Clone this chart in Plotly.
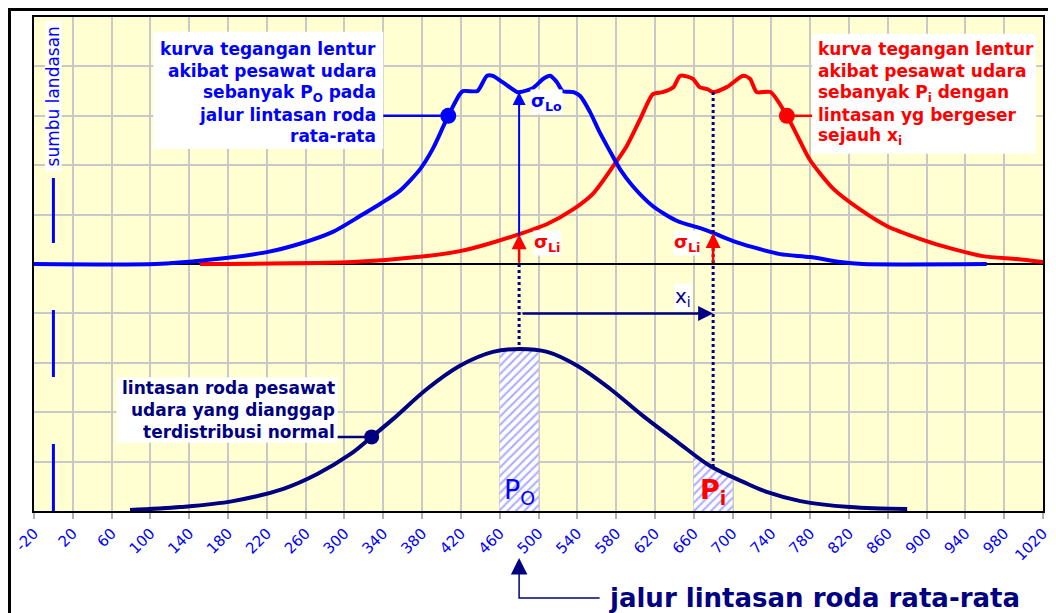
import numpy as np
import plotly.graph_objects as go

# ---------------- data ----------------
tick_vals = list(range(-20, 1021, 40))
tick_text = [str(v) for v in tick_vals]

mean_path = 480      # jalur lintasan roda rata-rata
shift_xi = 200       # x_i
runway_axis = 0      # sumbu landasan

# stress curve, aircraft Po on the mean wheel path (blue)
blue_x = [-20, 105, 158, 220, 254, 288, 316, 337, 357, 378, 391, 402, 407, 419, 422,
          437, 440, 447, 453, 463, 478, 481, 494, 505, 512, 519, 525, 536, 543, 553,
          563, 574, 584, 597, 618, 643, 666, 680, 700, 721, 749, 780, 811, 834, 962]
blue_y = [0, 0, 0.08, 0.24, 0.41, 0.65, 0.97, 1.22, 1.48, 1.92, 2.33, 2.79, 3.00, 3.44, 3.50,
          3.50, 3.58, 3.81, 3.81, 3.68, 3.48, 3.48, 3.56, 3.75, 3.81, 3.68, 3.50, 3.48, 3.40, 3.08,
          2.67, 2.27, 1.92, 1.58, 1.17, 0.87, 0.73, 0.63, 0.47, 0.34, 0.20, 0.14, 0.04, 0, 0]

# stress curve, aircraft Pi on path shifted by x_i (red)
red_x = [151, 309, 385, 419, 447, 481, 509, 536, 556, 577, 591, 605, 618, 628, 639, 646,
         659, 666, 674, 680, 694, 711, 718, 725, 739, 756, 770, 780, 804, 831, 859, 893,
         924, 958, 993, 1020]
red_y = [0, 0.04, 0.16, 0.26, 0.40, 0.61, 0.81, 1.11, 1.42, 1.98, 2.39, 2.94, 3.44, 3.48, 3.58, 3.81,
         3.75, 3.58, 3.54, 3.48, 3.58, 3.81, 3.75, 3.48, 3.48, 3.00, 2.47, 2.10, 1.52, 1.11, 0.77, 0.51,
         0.32, 0.16, 0.10, 0.04]

# normal distribution of wheel paths (navy), baseline at -5
norm_x = [79, 131, 185, 237, 272, 306, 328, 350, 385, 419, 453, 481, 509, 540, 574, 608,
          643, 677, 711, 736, 770, 821, 880]
norm_y = [-4.98, -4.92, -4.80, -4.55, -4.25, -3.85, -3.50, -3.14, -2.53, -2.06, -1.78, -1.72,
          -1.78, -2.06, -2.53, -3.08, -3.60, -4.09, -4.41, -4.62, -4.80, -4.92, -4.96]
norm_base = -5

# strip widths (hatched) and marker positions
strip_po = [460, 500]
strip_pi = [660, 700]
blue_marker_x = 407
red_marker_x = 756
norm_marker_x = 328

BLUE = "#0000FF"
RED = "#FF0000"
NAVY = "#000080"
FONT = "DejaVu Sans"

pi_x = mean_path + shift_xi


def on(xs, ys, x):
    return float(np.interp(x, xs, ys))


fig = go.Figure()

# hatched strips under the normal curve
for (a, b) in (strip_po, strip_pi):
    inner = [v for v in norm_x if a < v < b]
    sx = [a] + inner + [b]
    sy = [on(norm_x, norm_y, v) for v in sx]
    px = sx + [b, a, a]
    py = sy + [norm_base, norm_base, sy[0]]
    fig.add_trace(go.Scatter(x=px, y=py, mode="lines", fill="toself",
                             line=dict(width=0, color="rgba(0,0,0,0)"),
                             fillcolor="white",
                             fillpattern=dict(shape="/", fgcolor="#5A5AFF", bgcolor="white",
                                              size=6, solidity=0.35),
                             hoverinfo="skip"))

# runway axis (dashed)
fig.add_trace(go.Scatter(x=[runway_axis, runway_axis], y=[norm_base, 1.74], mode="lines",
                         line=dict(color=BLUE, width=3, dash="67px,67px"), hoverinfo="skip"))

# curves
fig.add_trace(go.Scatter(x=norm_x, y=norm_y, mode="lines",
                         line=dict(color=NAVY, width=4, shape="spline", smoothing=1.0)))
fig.add_trace(go.Scatter(x=red_x, y=red_y, mode="lines",
                         line=dict(color=RED, width=4, shape="spline", smoothing=0.7)))
fig.add_trace(go.Scatter(x=blue_x, y=blue_y, mode="lines",
                         line=dict(color=BLUE, width=4, shape="spline", smoothing=0.7)))

# dotted guide lines
fig.add_trace(go.Scatter(x=[mean_path, mean_path], y=[0, on(norm_x, norm_y, mean_path)],
                         mode="lines", line=dict(color=NAVY, width=3, dash="3px,3px")))
fig.add_trace(go.Scatter(x=[pi_x, pi_x], y=[on(red_x, red_y, pi_x), on(norm_x, norm_y, pi_x)],
                         mode="lines", line=dict(color=NAVY, width=3, dash="3px,3px")))

# leader lines + markers
fig.add_trace(go.Scatter(x=[340, blue_marker_x], y=[on(blue_x, blue_y, blue_marker_x)] * 2,
                         mode="lines", line=dict(color=BLUE, width=2.5)))
fig.add_trace(go.Scatter(x=[red_marker_x, 782], y=[on(red_x, red_y, red_marker_x)] * 2,
                         mode="lines", line=dict(color=RED, width=2.5)))
fig.add_trace(go.Scatter(x=[293, norm_marker_x], y=[on(norm_x, norm_y, norm_marker_x)] * 2,
                         mode="lines", line=dict(color=NAVY, width=2.5)))
fig.add_trace(go.Scatter(x=[blue_marker_x], y=[on(blue_x, blue_y, blue_marker_x)], mode="markers",
                         marker=dict(color=BLUE, size=16)))
fig.add_trace(go.Scatter(x=[red_marker_x], y=[on(red_x, red_y, red_marker_x)], mode="markers",
                         marker=dict(color=RED, size=16)))
fig.add_trace(go.Scatter(x=[norm_marker_x], y=[on(norm_x, norm_y, norm_marker_x)], mode="markers",
                         marker=dict(color=NAVY, size=15)))

shapes = []
# outer frame
shapes.append(dict(type="rect", xref="paper", yref="paper", x0=-0.0243, x1=1.05, y0=-0.3, y1=1.0152,
                   line=dict(color="black", width=3), fillcolor="rgba(0,0,0,0)", layer="above"))
# white text boxes
for (x0, x1, y0, y1) in [(103, 340, 2.33, 4.70), (782, 1013, 2.23, 4.66),
                         (65, 293, -3.62, -2.29), (-8.5, 8.5, 1.88, 4.92)]:
    shapes.append(dict(type="rect", xref="x", yref="y", x0=x0, x1=x1, y0=y0, y1=y1,
                       line=dict(width=0), fillcolor="white", layer="between"))
# bottom L-shaped pointer
shapes.append(dict(type="path", xref="x", yref="paper",
                   path="M %s,-0.115 L %s,-0.176 L 563,-0.176" % (mean_path, mean_path),
                   line=dict(color=NAVY, width=1.5)))

ann = []


def txt(text, x, y, color, size, xanchor="center", bold=False, bg=None, yref="y", textangle=0):
    t = "<b>%s</b>" % text if bold else text
    d = dict(text=t, x=x, y=y, xref="x", yref=yref, showarrow=False, xanchor=xanchor,
             yanchor="middle", font=dict(family=FONT, size=size, color=color), textangle=textangle,
             borderpad=0)
    if bg:
        d["bgcolor"] = bg
    ann.append(d)


blue_lines = ["kurva tegangan lentur", "akibat pesawat udara", "sebanyak P<sub>O</sub> pada",
              "jalur lintasan roda", "rata-rata"]
red_lines = ["kurva tegangan lentur", "akibat pesawat udara", "sebanyak P<sub>i</sub> dengan",
             "lintasan yg bergeser", "sejauh x<sub>i</sub>"]
norm_lines = ["lintasan roda pesawat", "udara yang dianggap", "terdistribusi normal"]
line_y = [4.35, 3.91, 3.46, 3.02, 2.59]
for s, yy in zip(blue_lines, line_y):
    txt(s, 334, yy, BLUE, 17, "right", True)
for s, yy in zip(red_lines, line_y):
    txt(s, 787, yy, RED, 17, "left", True)
for s, yy in zip(norm_lines, [-2.5, -2.96, -3.4]):
    txt(s, 291, yy, NAVY, 17, "right", True)

txt("sumbu landasan", runway_axis, 3.4, BLUE, 17, "center", False, textangle=-90)

txt("σ<sub>Lo</sub>", 491, 3.28, BLUE, 18, "left", True, bg="white")
txt("σ<sub>Li</sub>", 494, 0.42, RED, 18, "left", True, bg="white")
txt("σ<sub>Li</sub>", 668, 0.42, RED, 18, "right", True, bg="white")
txt("x<sub>i</sub>", 649, -0.66, NAVY, 20, "center", False, bg="white")
txt("P<sub>O</sub>", mean_path, -4.6, BLUE, 27, "center", False)
txt("P<sub>i</sub>", pi_x, -4.6, RED, 27, "center", True)

ann.append(dict(text="<b>jalur lintasan roda rata-rata</b>", x=571, y=-0.176, xref="x", yref="paper",
                showarrow=False, xanchor="left", yanchor="middle",
                font=dict(family=FONT, size=26, color=NAVY)))

# arrows
ann.append(dict(x=mean_path, y=on(blue_x, blue_y, mean_path), ax=mean_path, ay=0, xref="x", yref="y",
                axref="x", ayref="y", text="", showarrow=True, arrowhead=2, arrowsize=1.3,
                arrowwidth=2, arrowcolor=BLUE, standoff=0))
ann.append(dict(x=mean_path, y=on(red_x, red_y, mean_path), ax=mean_path, ay=0, xref="x", yref="y",
                axref="x", ayref="y", text="", showarrow=True, arrowhead=2, arrowsize=1.2,
                arrowwidth=2.5, arrowcolor=RED, standoff=0))
ann.append(dict(x=pi_x, y=on(blue_x, blue_y, pi_x), ax=pi_x, ay=0, xref="x", yref="y",
                axref="x", ayref="y", text="", showarrow=True, arrowhead=2, arrowsize=1.2,
                arrowwidth=2.5, arrowcolor=RED, standoff=0))
ann.append(dict(x=pi_x, y=-1, ax=mean_path + 2, ay=-1, xref="x", yref="y",
                axref="x", ayref="y", text="", showarrow=True, arrowhead=2, arrowsize=1.2,
                arrowwidth=2.5, arrowcolor=NAVY, standoff=0))
ann.append(dict(x=mean_path, y=-0.095, ax=0, ay=14, xref="x", yref="paper", text="",
                showarrow=True, arrowhead=2, arrowsize=2.2, arrowwidth=1.5, arrowcolor=NAVY,
                standoff=0))

# page body adds an 8px offset, so margins are reduced accordingly
fig.update_layout(
    width=1056, height=613, autosize=False, showlegend=False,
    margin=dict(l=26, r=21, t=9, b=110, autoexpand=False),
    paper_bgcolor="white", plot_bgcolor="#FFFFD2",
    shapes=shapes, annotations=ann,
    xaxis=dict(range=[-20, 1020], tickvals=tick_vals, ticktext=tick_text, tickangle=-45,
               tickfont=dict(family=FONT, size=15, color=BLUE), showgrid=True, automargin=False,
               gridcolor="#C8C8C8", gridwidth=1.5, ticks="outside", ticklen=6,
               tickcolor="#B0B0B0", tickwidth=1.5, showline=True, linecolor="black",
               linewidth=1.5, mirror=True, zeroline=False, fixedrange=True),
    yaxis=dict(range=[-5, 5], dtick=1, showticklabels=False, showgrid=True, automargin=False,
               gridcolor="#C8C8C8", gridwidth=1.5, zeroline=True, zerolinecolor="black",
               zerolinewidth=1.5, showline=True, linecolor="black", linewidth=1.5, mirror=True,
               fixedrange=True),
)

fig.write_html("out.html")
